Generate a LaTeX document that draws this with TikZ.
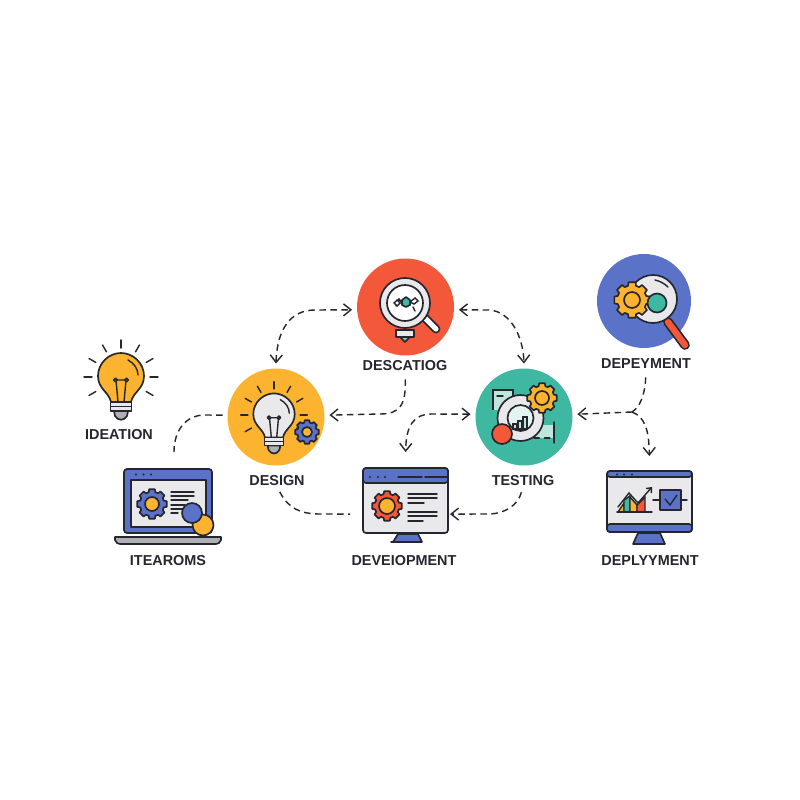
\documentclass[tikz,border=0pt]{standalone}
\usepackage{fontspec}
\setmainfont{Liberation Sans}
\usetikzlibrary{arrows.meta}
\definecolor{inkDark}{HTML}{26262E}
\definecolor{fillOrange}{HTML}{FBB330}
\definecolor{fillRed}{HTML}{F4583A}
\definecolor{fillTeal}{HTML}{3FB8A2}
\definecolor{fillBlue}{HTML}{5A72C8}
\definecolor{fillLight}{HTML}{E9E9EB}
\definecolor{fillGrey}{HTML}{B0B0B3}
\definecolor{fillPale}{HTML}{BFE6DC}
\tikzstyle{labeledDisc}=[shape = circle, minimum size = 1.94cm, inner sep = 0pt, outer sep = 0.1cm]
\tikzstyle{labeledText}=[font = \fontsize{8.2}{10}\selectfont\bfseries, text = inkDark, inner sep = 0pt]
\tikzstyle{iconBox}=[shape = rectangle, inner sep = 0pt, outer sep = 0.04cm]
\tikzstyle{icon}=[draw = inkDark, line width = 0.95pt, line join = round]
\tikzstyle{thinLine}=[draw = inkDark, line width = 0.8pt, line cap = round]
\tikzstyle{flowLine}=[draw = inkDark, line width = 0.8pt, dash pattern = on 0.13cm off 0.09cm]
\tikzstyle{tipBoth}=[{Straight Barb[length=0.15cm, width=0.24cm]}-{Straight Barb[length=0.15cm, width=0.24cm]}]
\tikzstyle{tipEnd}=[-{Straight Barb[length=0.15cm, width=0.24cm]}]
% gear: x, y, outer radius, inner radius, body colour, centre colour
\newcommand{\GearIcon}[6]{
\begin{scope}[shift = {(#1,#2)}]
\draw[icon, fill = #5] ({-11}:#3) \foreach \a in {0,45,...,315} { -- ({\a-11}:#3) -- ({\a+11}:#3) -- ({\a+16}:{0.82*#3}) -- ({\a+29}:{0.82*#3}) } -- cycle;
\draw[icon, fill = #6] (0,0) circle[radius = #4];
\end{scope}}
% bulb: x, y, scale, glass colour
\newcommand{\BulbIcon}[4]{
\begin{scope}[shift = {(#1,#2)}, scale = #3]
\foreach \a in {-150,-120,-90,-60,-30,0,30,150,180} {\draw[thinLine] (\a:29) -- (\a:37);}
\draw[icon, fill = #4] (-10,25) .. controls (-12,15) and (-23,12) .. (-23,-1) .. controls (-23,-14) and (-12,-24) .. (0,-24) .. controls (12,-24) and (23,-14) .. (23,-1) .. controls (23,12) and (12,15) .. (10,25) -- cycle;
\draw[thinLine] (7,-17) .. controls (13,-14) and (17,-8) .. (17,-2);
\draw[thinLine] (-3,25) -- (-5,3) (3,25) -- (5,3) (-5,3) -- (5,3);
\draw[icon, fill = white] (-5.5,3) circle[radius = 1.8] (5.5,3) circle[radius = 1.8];
\draw[icon, fill = fillGrey] (-7,34) -- (-6,39) .. controls (-3,44) and (3,44) .. (6,39) -- (7,34) -- cycle;
\draw[icon, fill = fillLight] (-10.5,25) rectangle (10.5,34);
\draw[thinLine] (-10.5,29.5) -- (10.5,29.5);
\end{scope}}
\begin{document}
\begin{tikzpicture}[x = 0.02cm, y = -0.02cm]
\fill[white] (0,0) rectangle (800,800);
\useasboundingbox (0,0) rectangle (800,800);
% discs
\node[labeledDisc, fill = fillOrange] (design) at (276,417) {};
\node[labeledDisc, fill = fillRed] (descatiog) at (405.5,307) {};
\node[labeledDisc, fill = fillTeal] (testing) at (524,417) {};
\node[labeledDisc, fill = fillBlue, minimum size = 1.88cm] (deployDisc) at (644,301) {};
% screens
\node[iconBox, minimum width = 1.76cm, minimum height = 1.28cm, draw = inkDark, line width = 0.95pt, rounded corners = 0.06cm, fill = fillBlue] (laptop) at (168,501) {};
\node[iconBox, minimum width = 1.7cm, minimum height = 1.3cm, draw = inkDark, line width = 0.95pt, rounded corners = 0.06cm, fill = fillLight] (monitor) at (405.5,500.5) {};
\node[iconBox, minimum width = 1.7cm, minimum height = 1.22cm, draw = inkDark, line width = 0.95pt, rounded corners = 0.06cm, fill = fillLight] (chart) at (649.5,501.5) {};
% labels
\node[labeledText] (lblIdeation) at (119,435) {IDEATION};
\node[labeledText] (lblDesign) at (277,481) {DESIGN};
\node[labeledText] (lblItearoms) at (168,561) {ITEAROMS};
\node[labeledText] (lblDescatiog) at (405,366) {DESCATIOG};
\node[labeledText] (lblTesting) at (523,481) {TESTING};
\node[labeledText] (lblDeveiopment) at (404,561) {DEVEIOPMENT};
\node[labeledText] (lblDepeyment) at (646,364) {DEPEYMENT};
\node[labeledText] (lblDeplyyment) at (650,561) {DEPLYYMENT};
% bulbs
\BulbIcon{121}{377}{1}{fillOrange}
\BulbIcon{274}{415}{0.9}{fillLight}
\GearIcon{307}{432}{12}{5}{fillBlue}{fillOrange}
% laptop
\draw[icon, fill = fillLight] (131,480) rectangle (206,527);
\fill[inkDark] (136,474.5) circle[radius = 1.2] (143.5,474.5) circle[radius = 1.2] (151,474.5) circle[radius = 1.2];
\GearIcon{152}{504}{15}{7}{fillBlue}{fillOrange}
\draw[thinLine] (171,492) -- (194,492) (171,496) -- (194,496) (171,500) -- (188,500) (171,505) -- (185,505) (171,509) -- (183,509) (171,513) -- (178,513);
\draw[icon, fill = fillOrange] (203,525) circle[radius = 10.5];
\draw[icon, fill = fillBlue] (192,513) circle[radius = 10];
\draw[icon, fill = fillGrey] (115,537) -- (221,537) -- (221,540) .. controls (220,543) and (218,544) .. (216,544) -- (120,544) .. controls (118,544) and (116,543) .. (115,540) -- cycle;
% descatiog lens
\draw[icon, fill = fillLight] (396,330) rectangle (414,337);
\draw[icon, fill = fillGrey] (400,337) -- (410,337) -- (405,342) -- cycle;
\draw[draw = inkDark, line width = 5pt, line cap = round] (425,318) -- (436,329);
\draw[draw = white, line width = 3pt, line cap = round] (425,318) -- (436,329);
\draw[icon, fill = fillLight] (405,303) circle[radius = 25];
\draw[icon, fill = white] (405,303) circle[radius = 18];
\draw[icon, fill = fillTeal] (406,297) -- (410,300) -- (410,305) -- (406,307) -- (402,305) -- (402,300) -- cycle;
\draw[thinLine] (396,306) -- (399,299) -- (402,303) (410,302) -- (415,298) -- (418,301) -- (414,304) -- (410,302) (413,307) -- (415,311);
\draw[thinLine, fill = white] (394,303) -- (397,300) -- (400,303) -- (397,306) -- cycle;
% testing icon
\draw[draw = inkDark, line width = 0.8pt, fill = fillPale] (493,410) -- (493,390) -- (513,390) -- (513,410);
\draw[thinLine] (497,396) -- (503,396);
\fill[fillPale] (536,425) rectangle (554,438);
\draw[thinLine] (554,422) -- (554,443);
\draw[thinLine, dashed] (534,438) -- (554,438);
\draw[icon, fill = fillLight] (520.5,418) circle[radius = 23];
\draw[icon, fill = fillTeal!15] (520.5,418) circle[radius = 13];
\draw[thinLine, fill = fillPale] (513,424) rectangle (517,429) (518,421) rectangle (522,429) (523,417) rectangle (527,429);
\draw[icon, fill = fillRed] (502,434) circle[radius = 10];
\GearIcon{542}{398}{15}{7}{fillOrange}{fillOrange}
% deployment lens
\draw[draw = inkDark, line width = 5.5pt, line cap = round] (668,322) -- (685,345);
\draw[draw = fillRed, line width = 3.6pt, line cap = round] (668,322) -- (685,345);
\draw[icon, fill = fillLight] (653,299) circle[radius = 24];
\draw[thinLine] (655,280) .. controls (660,281) and (665,284) .. (668,287);
\GearIcon{632}{300}{18}{8}{fillOrange}{fillOrange}
\draw[icon, fill = fillTeal] (657,303) circle[radius = 9.5];
% development monitor
\draw[icon, fill = fillBlue, rounded corners = 0.06cm] (363,483) -- (363,468) -- (448,468) -- (448,483) -- cycle;
\fill[inkDark] (370,477) circle[radius = 1.2] (378,477) circle[radius = 1.2] (385,477) circle[radius = 1.2];
\draw[thinLine] (398,477) -- (422,477) (425,477) -- (447,477);
\GearIcon{387}{506}{15}{8}{fillRed}{fillOrange}
\draw[thinLine] (408,494) -- (437,494) (408,498) -- (437,498) (408,503) -- (424,503) (408,512) -- (437,512) (408,516) -- (437,516) (408,521) -- (423,521);
\draw[icon, fill = fillBlue] (398,534) -- (418,534) -- (422,542) -- (393,542) -- cycle;
\draw[thinLine] (391,542) -- (421,542);
% deployment monitor
\draw[icon, fill = fillBlue, rounded corners = 0.06cm] (607,477) -- (607,471) -- (692,471) -- (692,477) -- cycle;
\draw[icon, fill = fillBlue, rounded corners = 0.06cm] (607,524) -- (692,524) -- (692,532) -- (607,532) -- cycle;
\fill[inkDark] (617,474.5) circle[radius = 1.2] (624,474.5) circle[radius = 1.2] (632,474.5) circle[radius = 1.2];
\draw[icon, fill = fillBlue] (638,533) -- (660,533) -- (665,544) -- (633,544) -- cycle;
\draw[thinLine, fill = fillOrange] (618,512) -- (624,503) -- (624,512) -- cycle;
\draw[thinLine, fill = fillTeal] (624,512) -- (624,500) -- (630,496) -- (630,512) -- cycle;
\draw[thinLine, fill = fillOrange] (630,512) -- (630,497) -- (637,505) -- (637,512) -- cycle;
\draw[thinLine, fill = fillRed] (637,512) -- (637,505) -- (645,497) -- (645,512) -- cycle;
\draw[thinLine] (617,512) -- (652,512);
\draw[thinLine, -{Straight Barb[length=0.08cm, width=0.14cm]}] (618,507) -- (629,493) -- (638,503) -- (652,487);
\draw[thinLine] (653,500) -- (660,500) (681,500) -- (687,500);
\draw[icon, fill = fillBlue] (660,490) rectangle (681,510);
\draw[draw = inkDark, line width = 0.8pt] (665,499) -- (670,505) -- (677,495);
% connectors
\coordinate (laptopEnd) at (174,452);
\coordinate (deployFork) at (632,412);
\draw[flowLine, tipBoth] (design.north) .. controls (277,330) and (290,310) .. (315,310) -- (descatiog.183);
\draw[flowLine, tipBoth] (descatiog.-3) -- (490,310) .. controls (510,312) and (523,335) .. (testing.north);
\draw[flowLine, tipEnd, shorten < = 0.16cm] (lblDescatiog.south) .. controls (406,405) and (400,414) .. (380,414) -- (design.2);
\draw[flowLine, tipBoth, shorten > = 0.28cm] (testing.177) -- (432,414) .. controls (414,414) and (406,425) .. (monitor.north);
\draw[flowLine, tipEnd, shorten < = 0.12cm] (lblTesting.south) .. controls (518,505) and (505,514) .. (488,514) -- (monitor.-17);
\draw[flowLine, shorten < = 0.12cm, shorten > = 0.22cm] (lblDesign.south) .. controls (288,508) and (300,514) .. (320,514) -- (monitor.197);
\draw[flowLine] (design.178) -- (205,415) .. controls (186,415) and (174,430) .. (laptopEnd);
\draw[flowLine, shorten < = 0.16cm] (lblDepeyment.south) .. controls (645,395) and (640,407) .. (deployFork);
\draw[flowLine, tipEnd] (deployFork) -- (testing.3);
\draw[flowLine, tipEnd, shorten > = 0.26cm] (deployFork) .. controls (645,417) and (649,430) .. (chart.north);
\end{tikzpicture}
\end{document}
